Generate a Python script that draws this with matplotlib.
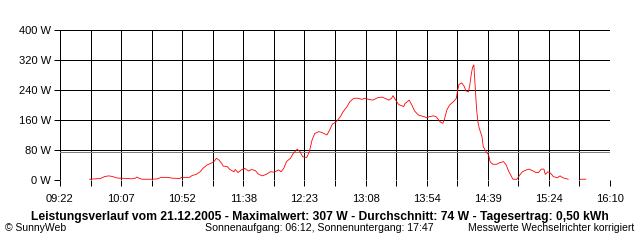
import numpy as np
import matplotlib
matplotlib.use('Agg')
import matplotlib.pyplot as plt

# Leistungsverlauf 21.12.2005 (Uhrzeit, Watt); None = keine Messwerte
times = ['09:44', '09:52', '09:55', '09:58', '10:00', '10:01', '10:05', '10:13', '10:15', '10:18',
         '10:19', '10:21', '10:23', '10:25', '10:30', '10:34', '10:37', '10:42', '10:45', '10:51',
         '10:52', '10:58', '11:00', '11:03', '11:06', '11:08', '11:11', '11:13', '11:16', '11:18',
         '11:20', '11:22', '11:23', '11:26', '11:28', '11:31', '11:32', '11:34', '11:37', '11:39',
         '11:42', '11:44', '11:47', '11:49', '11:52', '11:55', '11:58', '12:01', '12:04', '12:06',
         '12:08', '12:10', '12:13', '12:15', '12:18', '12:20', '12:22', '12:25', '12:27', '12:29',
         '12:31', '12:34', '12:36', '12:39', '12:40', '12:42', '12:44', '12:46', '12:48', '12:50',
         '12:52', '12:55', '12:57', '13:00', '13:03', '13:06', '13:08', '13:11', '13:14', '13:18',
         '13:21', '13:23', '13:26', '13:28', '13:29', '13:31', '13:33', '13:34', '13:37', '13:38',
         '13:41', '13:43', '13:45', '13:48', '13:52', '13:54', '13:56', '13:59', '14:01', '14:04',
         '14:06', '14:07', '14:09', '14:11', '14:14', '14:16', '14:17', '14:18', '14:20', '14:22',
         '14:23', '14:25', '14:26', '14:27', '14:28', '14:29', '14:30', '14:31', '14:32', '14:33',
         '14:35', '14:36', '14:38', '14:40', '14:41', '14:43', '14:46', '14:48', '14:51', '14:53',
         '14:55', '14:58', '15:01', '15:03', '15:05', '15:08', '15:10', '15:13', '15:15', '15:17',
         '15:19', '15:21', '15:22', '15:24', '15:26', '15:28', '15:31', '15:33', '15:35', '15:38',
         '15:39', '15:44', '15:48', '15:52']
watts = [2, 4, 9, 11, 10, 9, 5, 4, 3, 5,
         8, 4, 2, 2, 2, 3, 7, 7, 5, 4,
         7, 7, 12, 15, 22, 31, 40, 43, 48, 58,
         53, 44, 37, 36, 28, 22, 28, 20, 28, 31,
         24, 28, 25, 16, 11, 15, 22, 21, 27, 22,
         31, 49, 58, 71, 82, 76, 62, 60, 76, 107,
         124, 129, 127, 122, 120, 133, 149, 153, 160, 169,
         182, 196, 209, 218, 218, 215, 218, 215, 213, 220,
         221, 218, 213, 218, 225, 213, 202, 200, 196, 204,
         213, 200, 184, 173, 169, 166, 169, 171, 169, 155,
         151, 160, 187, 200, 209, 218, 240, 255, 259, 249,
         238, 235, 253, 280, 300, 307, 250, 190, 155, 138,
         116, 89, 76, 67, 49, 42, 42, 46, 49, 40,
         22, 2, 2, 13, 22, 27, 29, 24, 20, 20,
         29, 29, 15, 22, 18, 9, 6, 11, 6, 3,
         2, None, 2, 2]

average = 74
y_ticks = [0, 80, 160, 240, 320, 400]
x_labels = ['09:22', '10:07', '10:52', '11:38', '12:23', '13:08',
            '13:54', '14:39', '15:24', '16:10']


def to_min(s):
    h, m = s.split(':')
    return int(h) * 60 + int(m)


x = np.array([to_min(t) for t in times], dtype=float)
y = np.array([np.nan if w is None else w for w in watts], dtype=float)

plt.rcParams['font.family'] = ['Liberation Sans', 'DejaVu Sans']

fig = plt.figure(figsize=(6.4, 2.4), dpi=100)
ax = fig.add_axes([60 / 640, 60 / 240, 550 / 640, 150 / 240])

x0, x1 = to_min('09:22'), to_min('16:10')
grid_x = np.linspace(x0, x1, 19)

ax.set_xlim(x0, x1)
ax.set_ylim(0, 400)

for gx in grid_x:
    ax.axvline(gx, color='black', lw=0.72, zorder=1, antialiased=False)
for gy in y_ticks:
    ax.axhline(gy, color='black', lw=0.72, zorder=1, antialiased=False)
ax.axhline(average, color='#808080', lw=0.72, zorder=2, antialiased=False)

ax.plot(x, y, color='red', lw=0.6, zorder=3, antialiased=True)

ax.set_xticks(grid_x)
ax.set_xticklabels([x_labels[i // 2] if i % 2 == 0 else '' for i in range(19)])
ax.set_yticks(y_ticks)
ax.set_yticklabels([f'{v} W' for v in y_ticks])
ax.tick_params(direction='out', length=4, width=0.72, color='black', labelsize=8)
ax.tick_params(axis='x', pad=6)
ax.tick_params(axis='y', pad=2.5)
for s in ax.spines.values():
    s.set_visible(False)

fig.text(0.5, 1 - 217 / 240, 'Leistungsverlauf vom 21.12.2005 - Maximalwert: 307 W - '
         'Durchschnitt: 74 W - Tagesertrag: 0,50 kWh',
         ha='center', va='center', fontsize=8.7, fontweight='bold')
fig.text(5 / 640, 1 - 228 / 240, '© SunnyWeb', ha='left', va='center', fontsize=7.5)
fig.text(319 / 640, 1 - 228 / 240, 'Sonnenaufgang: 06:12, Sonnenuntergang: 17:47',
         ha='center', va='center', fontsize=7.6)
fig.text(634 / 640, 1 - 228 / 240, 'Messwerte Wechselrichter korrigiert',
         ha='right', va='center', fontsize=7.5)

fig.savefig('out.png', dpi=100)
